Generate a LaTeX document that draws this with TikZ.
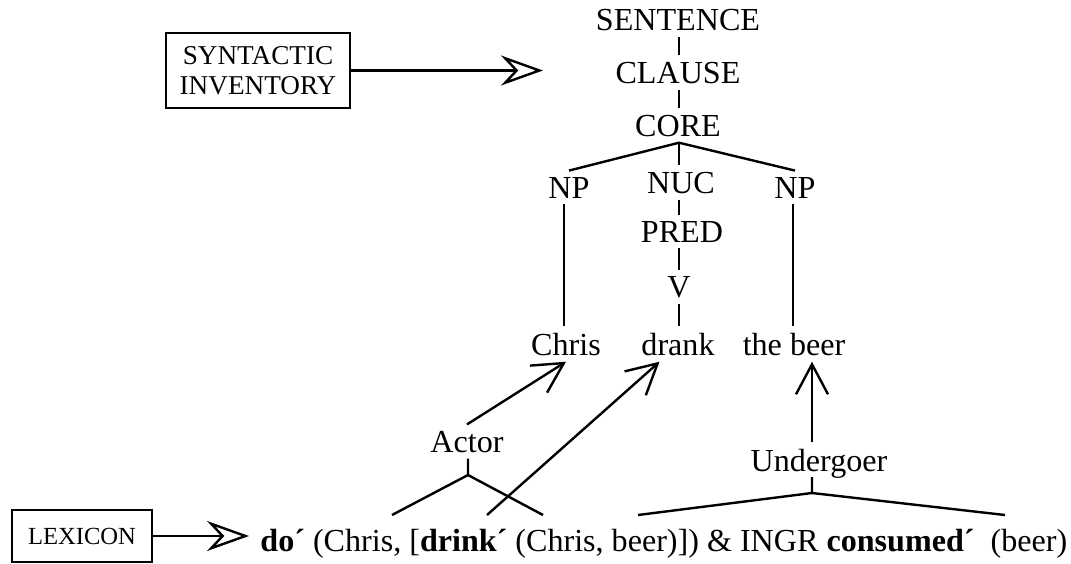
\documentclass[tikz,border=0pt]{standalone}
\usepackage{fontspec}
\setmainfont{Liberation Serif}
\usetikzlibrary{arrows.meta,calc}
\begin{document}
\begin{tikzpicture}[x=0.5pt,y=-0.5pt,
  lbl/.style={font=\fontsize{16.05}{18}\selectfont, inner xsep=0pt, inner ysep=3pt, anchor=base},
  boxnode/.style={draw, line width=1.2pt, align=center, inner sep=0pt},
  ln/.style={line width=1.2pt},
  bigarr/.style={line width=1.2pt, -{Stealth[open, length=21pt, width=15pt, inset=7pt]}},
  barb/.style={line width=1.2pt, -{Straight Barb[length=15pt, width=16pt]}}
]
\path[use as bounding box] (0,0) rectangle (1071,563);

% boxes
\node[boxnode, font=\fontsize{13.6}{15}\selectfont, minimum width=92pt, minimum height=37.5pt] (SYN) at (258,70.5) {SYNTACTIC\\INVENTORY};
\node[boxnode, font=\fontsize{12.3}{15}\selectfont, minimum width=70pt, minimum height=26pt] (LEX) at (82,536) {LEXICON};
\coordinate (syntip) at (543,72);
\coordinate (lextip) at (249,536);

% tree labels
\node[lbl] (S) at (678,30) {SENTENCE};
\node[lbl] (CL) at (678,83) {CLAUSE};
\node[lbl] (CO) at (678,136) {CORE};
\node[lbl] (NPl) at (569,198) {NP};
\node[lbl] (NUC) at (681,193) {NUC};
\node[lbl] (NPr) at (795,198) {NP};
\node[lbl] (PRED) at (682,242) {PRED};
\node[lbl] (V) at (679,297) {V};
\node[lbl] (Chris) at (566,355) {Chris};
\node[lbl] (drank) at (678,355) {drank};
\node[lbl] (beer) at (794,355) {the beer};
\node[lbl] (Actor) at (467,452) {Actor};
\node[lbl] (Under) at (819,471) {Undergoer};
\node[lbl, anchor=base west] (F) at (260,551)
  {\textbf{do´} (Chris, [\textbf{drink´} (Chris, beer)]) \& INGR \textbf{consumed´}\ \ (beer)};

% coordinates
\coordinate (axis) at (679,0);
\coordinate (aapex) at (468,475);
\coordinate (al) at (392,515);
\coordinate (ar) at (543,515);
\coordinate (uapex) at (812,493);
\coordinate (ul) at (638,515);
\coordinate (ur) at (1005,515);
\coordinate (ds) at (487,515);

% tree lines
\draw[ln] (S.south -| axis) -- (CL.north -| axis);
\draw[ln] (CL.south -| axis) -- (CO.north -| axis);
\draw[ln] (CO.south -| axis) -- (NPl.north);
\draw[ln] (CO.south -| axis) -- (NPr.north);
\draw[ln] (CO.south -| axis) -- (NUC.north -| axis);
\draw[ln] (NUC.south -| axis) -- (PRED.north -| axis);
\draw[ln] (PRED.south -| axis) -- (V.north -| axis);
\draw[ln] (V.south -| axis) -- (drank.north -| axis);
\draw[ln] ([xshift=-2.5pt]NPl.south) -- ([xshift=-2.5pt]NPl.south |- Chris.north);
\draw[ln] ([xshift=-1pt]NPr.south) -- ([xshift=-1pt]NPr.south |- beer.north);

% semantic trees
\draw[ln] (Actor.south -| aapex) -- (aapex) -- (al);
\draw[ln] (aapex) -- (ar);
\draw[ln] ([yshift=-3pt]uapex |- Under.base) -- (uapex) -- (ul);
\draw[ln] (uapex) -- (ur);

% linking arrows
\draw[barb] (Actor.north) -- (Chris.south);
\draw[barb] (ds) -- ($(drank.south west)!0.25!(drank.south east)$);
\draw[barb] (Under.north -| uapex) -- (uapex |- beer.south);

% inventory arrows
\draw[bigarr] (SYN.east) -- (SYN.east -| syntip);
\draw[bigarr] (LEX.east) -- (LEX.east -| lextip);
\end{tikzpicture}
\end{document}
